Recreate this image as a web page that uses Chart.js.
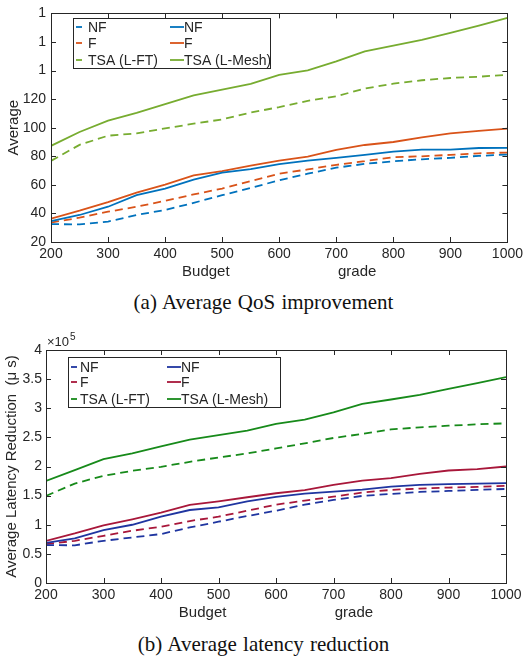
<!DOCTYPE html>
<html>
<head>
<meta charset="utf-8">
<script src="https://cdn.jsdelivr.net/npm/chart.js@4"></script>
<style>
  body { margin: 0; background: #fff; width: 527px; height: 661px; position: relative; overflow: hidden; }
  .wrap { position: absolute; left: 0; width: 527px; }
  .cap { position: absolute; left: 0; width: 527px; text-align: center; font-family: 'Liberation Serif', 'Times New Roman', serif; font-size: 21px; line-height: 21px; color: #111; word-spacing: 1px; }
</style>
</head>
<body>
<div class="wrap" style="top:0;height:290px"><canvas id="qos"></canvas></div>
<div class="cap" style="top:292px">(a) Average QoS improvement</div>
<div class="wrap" style="top:330px;height:300px"><canvas id="lat"></canvas></div>
<div class="cap" style="top:634px">(b) Average latency reduction</div>
<script>
// budget grades on the x axis
const xValues = [200, 250, 300, 350, 400, 450, 500, 550, 600, 650, 700, 750, 800, 850, 900, 950, 1000]

// (a) average QoS improvement
const qosNFDash = [32.5, 32.3, 34.3, 38.9, 42.4, 47.4, 52.8, 57.8, 63.2, 67.8, 72, 74.7, 76.5, 77.9, 78.9, 80.3, 81.2]
const qosNF = [34.6, 38.9, 44.7, 52.8, 57.4, 63.7, 68.5, 71, 74.5, 77, 78.9, 81, 83.3, 84.7, 84.7, 85.8, 85.9]
const qosFDash = [33.6, 37, 41.2, 44.7, 48.8, 53.3, 57.4, 62.7, 67.8, 70.8, 74, 76.6, 79.3, 80, 81, 82.1, 82.6]
const qosF = [36.4, 41.9, 47.9, 54.6, 60.2, 66.6, 69.6, 73.4, 77, 79.8, 84.4, 87.9, 90, 93.2, 96, 97.8, 99.4]
const qosLFT = [76.8, 88, 94.4, 96, 99.5, 102.8, 105.8, 110.6, 114.4, 118.8, 122, 127.4, 130.8, 133.2, 134.8, 135.7, 137]
const qosLMesh = [87.3, 97, 104.9, 110.4, 116.5, 122.7, 126.7, 130.6, 137, 140.2, 146.4, 153.4, 157.5, 161.5, 166.3, 171.5, 176.8]
// tick labels as printed (top three are cut to "1" in the figure)
const qosYTicks = ['20', '40', '60', '80', '100', '120', '1', '1', '1']

// (b) average latency reduction, x10^5 us
const latNFDash = [0.65, 0.647, 0.724, 0.782, 0.84, 0.955, 1.052, 1.15, 1.241, 1.345, 1.426, 1.495, 1.529, 1.563, 1.58, 1.598, 1.615]
const latNF = [0.69, 0.765, 0.909, 1.0, 1.138, 1.253, 1.3, 1.403, 1.478, 1.534, 1.569, 1.603, 1.655, 1.684, 1.697, 1.707, 1.714]
const latFDash = [0.667, 0.724, 0.81, 0.897, 0.966, 1.064, 1.138, 1.241, 1.345, 1.414, 1.483, 1.552, 1.598, 1.621, 1.638, 1.65, 1.667]
const latF = [0.724, 0.85, 0.99, 1.093, 1.207, 1.34, 1.403, 1.472, 1.541, 1.593, 1.684, 1.759, 1.8, 1.874, 1.931, 1.955, 2.0]
const latLFT = [1.495, 1.707, 1.84, 1.926, 1.995, 2.08, 2.155, 2.224, 2.31, 2.397, 2.49, 2.559, 2.638, 2.672, 2.7, 2.724, 2.741]
const latLMesh = [1.753, 1.937, 2.127, 2.224, 2.345, 2.46, 2.54, 2.615, 2.73, 2.805, 2.931, 3.076, 3.15, 3.231, 3.334, 3.431, 3.534]
const latYTicks = ['0', '0.5', '1', '1.5', '2', '2.5', '3', '3.5', '4']

const xTicks = ['200', '300', '400', '500', '600', '700', '800', '900', '1000']
const seriesLabels = ['NF', 'NF', 'F', 'F', 'TSA (L-FT)', 'TSA (L-Mesh)']

const FONT = "'Liberation Sans', Arial, Helvetica, sans-serif"
const INK = '#262626'

const toPoints = arr => arr.map((v, i) => ({ x: xValues[i], y: v }))

const makeSets = (series, colors) => series.map((s, i) => ({
  label: seriesLabels[i],
  data: toPoints(s),
  borderColor: colors[Math.floor(i / 2)],
  borderWidth: 1.8,
  borderDash: i % 2 === 0 ? [8, 5] : [],
  pointRadius: 0,
  tension: 0,
  fill: false
}))

// box round the plot with inward ticks on all four sides, like matlab
const boxTicks = {
  id: 'boxTicks',
  afterDatasetsDraw(chart) {
    const { ctx, chartArea: a, scales: { x, y } } = chart
    ctx.save()
    ctx.strokeStyle = INK
    ctx.lineWidth = 1
    const line = (x1, y1, x2, y2) => { ctx.beginPath(); ctx.moveTo(x1, y1); ctx.lineTo(x2, y2); ctx.stroke() }
    x.ticks.forEach(t => {
      const px = Math.round(x.getPixelForValue(t.value)) + 0.5
      line(px, a.bottom, px, a.bottom - 5)
      line(px, a.top, px, a.top + 5)
    })
    y.ticks.forEach(t => {
      const py = Math.round(y.getPixelForValue(t.value)) + 0.5
      line(a.left, py, a.left + 5, py)
      line(a.right, py, a.right - 5, py)
    })
    ctx.strokeRect(Math.round(a.left) + 0.5, Math.round(a.top) + 0.5, Math.round(a.right - a.left), Math.round(a.bottom - a.top))
    ctx.restore()
  }
}

// two column legend inside the plot
const boxLegend = {
  id: 'boxLegend',
  afterDraw(chart, args, o) {
    const { ctx } = chart
    ctx.save()
    ctx.fillStyle = '#fff'
    ctx.fillRect(o.x, o.y, o.w, o.h)
    ctx.strokeStyle = INK
    ctx.lineWidth = 1
    ctx.strokeRect(o.x + 0.5, o.y + 0.5, o.w, o.h)
    ctx.font = '14px ' + FONT
    ctx.textBaseline = 'middle'
    chart.data.datasets.forEach((ds, i) => {
      const col = i % 2
      const row = Math.floor(i / 2)
      const ry = o.rows[row]
      ctx.strokeStyle = ds.borderColor
      ctx.lineWidth = 1.8
      ctx.beginPath()
      if (col === 0) {
        ctx.moveTo(o.x + 3, ry); ctx.lineTo(o.x + 9, ry)
      } else {
        ctx.moveTo(o.col2 - 14, ry); ctx.lineTo(o.col2, ry)
      }
      ctx.stroke()
      ctx.fillStyle = INK
      ctx.fillText(ds.label, col === 0 ? o.col1 : o.col2, ry + 1)
    })
    ctx.restore()
  }
}

// x10^5 multiplier over the y axis
const expLabel = {
  id: 'expLabel',
  afterDraw(chart, args, o) {
    if (!o.show) return
    const { ctx, chartArea: a } = chart
    ctx.save()
    ctx.fillStyle = INK
    ctx.textBaseline = 'alphabetic'
    ctx.font = '13px ' + FONT
    ctx.fillText('\u00d710', a.left + 1, a.top - 4)
    ctx.font = '10px ' + FONT
    ctx.fillText('5', a.left + 1 + ctx.measureText('\u00d710').width + 6, a.top - 10)
    ctx.restore()
  }
}

const makeChart = (id, sets, yMin, yMax, yStep, yTicks, yTitle, geom) => new Chart(document.getElementById(id), {
  type: 'line',
  data: { datasets: sets },
  plugins: [boxTicks, boxLegend, expLabel],
  options: {
    responsive: true,
    maintainAspectRatio: false,
    animation: false,
    layout: { padding: { left: 0, right: geom.right, top: geom.top, bottom: 0 } },
    plugins: {
      legend: { display: false },
      tooltip: { enabled: false },
      boxLegend: geom.legend,
      expLabel: { show: geom.exp }
    },
    scales: {
      x: {
        type: 'linear',
        min: 200,
        max: 1000,
        grid: { display: false, drawTicks: false },
        border: { display: false },
        ticks: {
          stepSize: 100,
          autoSkip: false,
          maxRotation: 0,
          padding: 4,
          color: INK,
          font: { family: FONT, size: 14 },
          callback: (v, i) => xTicks[i]
        },
        title: { display: true, text: 'Budget                          grade', color: INK, font: { family: FONT, size: 15 }, padding: { top: 0, bottom: geom.xTitlePad } },
        afterFit: s => { s.height = geom.xHeight }
      },
      y: {
        min: yMin,
        max: yMax,
        grid: { display: false, drawTicks: false },
        border: { display: false },
        ticks: {
          stepSize: yStep,
          padding: geom.yPad,
          color: INK,
          font: { family: FONT, size: 14 },
          callback: (v, i) => yTicks[i]
        },
        title: { display: true, text: yTitle, color: INK, font: { family: FONT, size: 15 }, padding: { top: geom.yTitlePad, bottom: 0 } },
        afterFit: s => { s.width = geom.yWidth }
      }
    }
  }
})

makeChart('qos',
  makeSets([qosNFDash, qosNF, qosFDash, qosF, qosLFT, qosLMesh], ['#0072BD', '#D95319', '#77AC30']),
  20, 180, 20, qosYTicks, 'Average',
  {
    right: 19, top: 11, yWidth: 51, xHeight: 48, yPad: 5, xTitlePad: 9, yTitlePad: 5, exp: false,
    legend: { x: 73, y: 18, w: 197, h: 50, col1: 88, col2: 184, rows: [27, 43, 60] }
  })

makeChart('lat',
  makeSets([latNFDash, latNF, latFDash, latF, latLFT, latLMesh], ['#1f35a0', '#a8173a', '#178a1a']),
  0, 4, 0.5, latYTicks, 'Average Latency Reduction  (\u03bc s)',
  {
    right: 21, top: 20, yWidth: 46, xHeight: 47, yPad: 4, xTitlePad: 8, yTitlePad: 3, exp: true,
    legend: { x: 68, y: 27, w: 212, h: 50, col1: 80, col2: 181, rows: [37, 52, 69] }
  })
</script>
</body>
</html>
